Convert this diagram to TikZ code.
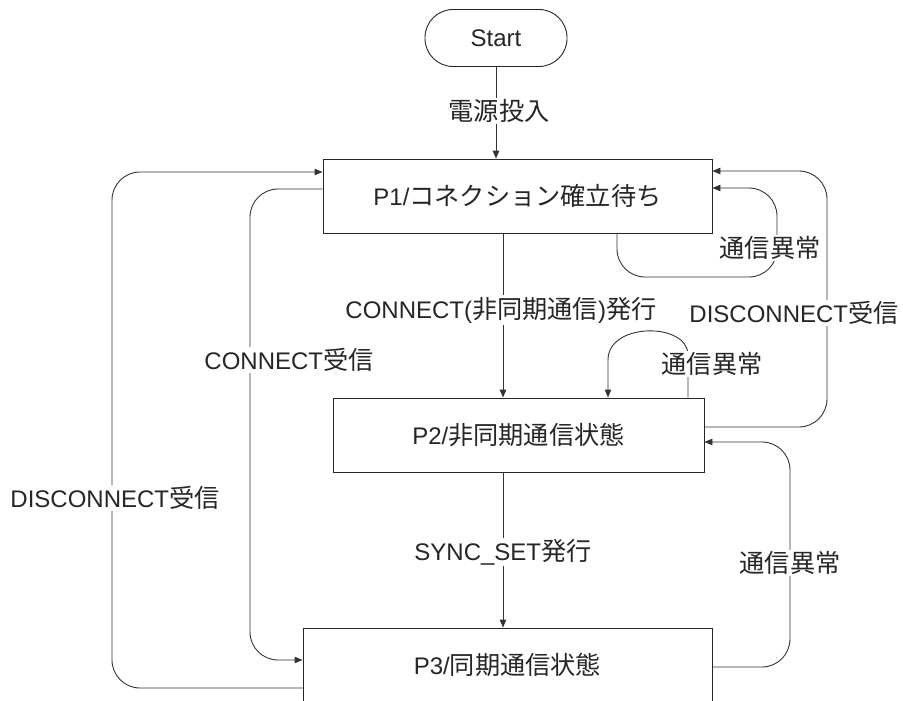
\documentclass[tikz,border=0pt]{standalone}
\usepackage{fontspec}
\setmainfont{Liberation Sans}
\newfontfamily\cjk[Scale=1.05]{Noto Sans CJK JP}
\usetikzlibrary{arrows.meta}

\begin{document}
\begin{tikzpicture}
  [x=1pt,y=-1pt,line width=0.9pt,
   every node/.style={text=black!85,font=\fontsize{24}{28}\selectfont},
   state/.style={draw=black!85,rectangle,minimum height=74pt,inner sep=0pt},
   term/.style={draw=black!85,rectangle,rounded corners=28pt,minimum width=142pt,minimum height=57pt},
   lbl/.style={fill=white,inner sep=1.5pt},
   flow/.style={draw=black!80,-{Triangle[length=8pt,width=6.5pt]}},
   back/.style={flow,rounded corners=28pt}]
  \useasboundingbox (0,0) rectangle (903,701);

  \node[term] (st) at (496,38) {Start};
  \node[state,minimum width=389pt] (p1) at (517.5,196) {P1/{\cjk コネクション確立待ち}};
  \node[state,minimum width=371pt] (p2) at (518.5,435) {P2/{\cjk 非同期通信状態}};
  \node[state,minimum width=409pt] (p3) at (507.5,665) {P3/{\cjk 同期通信状態}};

  % main flow
  \draw[flow] (st.south) -- (st.south |- p1.north);
  \draw[flow] (p1.south -| 503,0) -- (p2.north -| 503,0);
  \draw[flow] (p2.south -| 503,0) -- (p3.north -| 503,0);

  % right side
  \draw[back] (p1.south -| 617,0) |- (777,277) |- (p1.east |- 0,188);
  \draw[back] (p2.east |- 0,427) -| (827,171) -- (p1.east |- 0,171);
  \draw[flow] (p2.north -| 688,0) -- (688,355) .. controls (688,322) and (608,322) .. (608,360) -- (p2.north -| 608,0);
  \draw[back] (p3.east |- 0,667) -| (790,442) -- (p2.east |- 0,442);

  % left side
  \draw[back] (p3.west |- 0,688) -| (112,172) -- (p1.west |- 0,172);
  \draw[back] (p1.west |- 0,189) -| (250,660) -- (p3.west |- 0,660);

  % labels
  \node[lbl] (l1) at (499,111) {\cjk 電源投入};
  \node[lbl] (l2) at (501,310) {CONNECT({\cjk 非同期通信}){\cjk 発行}};
  \node[lbl] (l3) at (503,552) {SYNC\_SET{\cjk 発行}};
  \node[lbl] (l4) at (770,248) {\cjk 通信異常};
  \node[lbl] (l5) at (794,313) {DISCONNECT{\cjk 受信}};
  \node[lbl] (l6) at (712,364) {\cjk 通信異常};
  \node[lbl] (l7) at (790,563) {\cjk 通信異常};
  \node[lbl] (l8) at (115,498) {DISCONNECT{\cjk 受信}};
  \node[lbl] (l9) at (289,360) {CONNECT{\cjk 受信}};
\end{tikzpicture}
\end{document}
